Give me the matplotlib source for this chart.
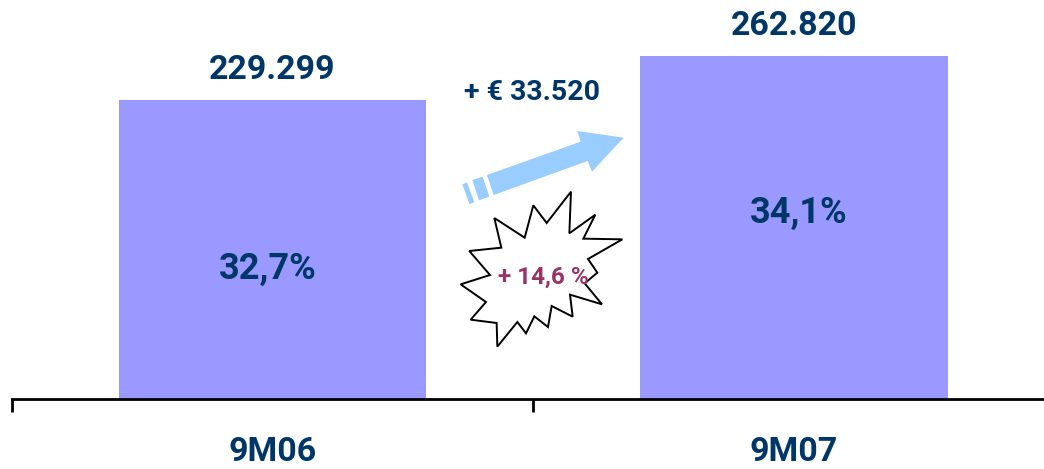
import numpy as np
import matplotlib
matplotlib.use('Agg')
import matplotlib.pyplot as plt
from matplotlib.patches import Polygon

# data
categories = ['9M06', '9M07']
values = [229299, 262820]
value_labels = ['229.299', '262.820']
share_labels = ['32,7%', '34,1%']
delta_label = '+ € 33.520'
delta_pct_label = '+ 14,6 %'

W, H = 1044, 469
NAVY = '#003768'
BAR = '#9999ff'
ARROW = '#99ccff'
PLUM = '#993366'

plt.rcParams['font.family'] = ['Roboto', 'DejaVu Sans']

fig = plt.figure(figsize=(W / 100, H / 100), dpi=100)

# main axes, x starts at the first tick and y starts at the baseline
ax = fig.add_axes([11.7 / W, (H - 399) / H, (W - 11.7) / W, 399 / H])
ax.patch.set_alpha(0)
x = np.arange(len(categories))
ax.bar(x, values, width=0.589, color=BAR, linewidth=0, zorder=1)
ax.set_xlim(-0.5, 1.4795)
ax.set_ylim(0, 305980)

for s in ['top', 'left', 'right']:
    ax.spines[s].set_visible(False)
ax.spines['bottom'].set_linewidth(2)
ax.spines['bottom'].set_color('black')
ax.set_yticks([])
ax.set_xticks([-0.5, 0.5])
ax.set_xticklabels([])
ax.tick_params(axis='x', length=9, width=2, color='black')

# the share labels are not centred in the bars in the original
share_offsets = [(-5, -19), (5, 15)]

for i in x:
    ax.annotate(categories[i], (i, 0), xytext=(0, -53), textcoords='offset pixels',
                ha='center', va='center', fontsize=24.5, fontweight='bold', color=NAVY,
                annotation_clip=False)
    ax.annotate(value_labels[i], (i, values[i]), xytext=(0, 30), textcoords='offset pixels',
                ha='center', va='center', fontsize=24.5, fontweight='bold', color=NAVY,
                annotation_clip=False)
    ax.annotate(share_labels[i], (i, values[i] * 0.5), xytext=share_offsets[i], textcoords='offset pixels',
                ha='center', va='center', fontsize=26, fontweight='bold', color=NAVY)

# overlay in image pixels for the arrow and the burst
ov = fig.add_axes([0, 0, 1, 1])
ov.set_xlim(0, W)
ov.set_ylim(H, 0)
ov.axis('off')
ov.patch.set_alpha(0)


def zoomed(pts):
    return [(440 + a / 3, 60 + b / 3) for a, b in pts]


shaft = [(141, 345), (422, 245), (412, 213), (551, 233), (456, 335), (443, 303), (161, 405)]
stripe1 = [(97, 360), (128, 350), (148, 410), (117, 421)]
stripe2 = [(67, 373), (81, 367), (103, 427), (88, 432)]
for p in [shaft, stripe1, stripe2]:
    ov.add_patch(Polygon(zoomed(p), closed=True, facecolor=ARROW, edgecolor='none'))

burst = [(393, 395), (388, 520), (466, 464), (430, 536), (547, 538), (444, 597), (472, 638),
         (434, 670), (486, 733), (390, 704), (398, 770), (335, 738), (324, 801), (283, 769),
         (258, 820), (232, 786), (172, 860), (170, 789), (92, 779), (138, 726), (62, 673),
         (150, 645), (88, 573), (184, 563), (163, 474), (254, 533), (280, 436), (320, 489)]
ov.add_patch(Polygon(zoomed(burst), closed=True, facecolor='white', edgecolor='black',
                     linewidth=1.4, joinstyle='miter'))

ov.text(532, 92, delta_label, ha='center', va='center', fontsize=20.5, fontweight='bold', color=NAVY)
ov.text(543, 277, delta_pct_label, ha='center', va='center', fontsize=17.5, fontweight='bold', color=PLUM)

fig.savefig('out.png', dpi=100)
